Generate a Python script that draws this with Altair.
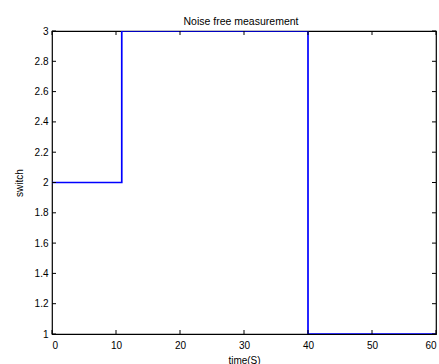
import altair as alt
import pandas as pd

time_s = [0, 10.9, 40, 60]
switch = [2, 3, 1, 1]
x_ticks = [0, 10, 20, 30, 40, 50, 60]
y_ticks = [1.0, 1.2, 1.4, 1.6, 1.8, 2.0, 2.2, 2.4, 2.6, 2.8, 3.0]

W, H = 384, 303
FONT = "Liberation Sans"

df = pd.DataFrame({"t": time_s, "s": switch})
xt = pd.DataFrame({"v": x_ticks})
yt = pd.DataFrame({"v": y_ticks})

xscale = alt.Scale(domain=[0, 60], nice=False, zero=False)
yscale = alt.Scale(domain=[1, 3], nice=False, zero=False)

common = dict(labelFont=FONT, labelFontSize=10, labelColor="black", labelOverlap=False,
              titleFont=FONT, titleFontSize=10, titleColor="black", titleFontWeight="normal",
              tickSize=0, domain=False, grid=False)
x_axis = alt.Axis(values=x_ticks, format="d", labelPadding=6, titlePadding=5, **common)
y_axis = alt.Axis(values=y_ticks, format="~g", labelPadding=4, titlePadding=10, **common)

line = alt.Chart(df).mark_line(interpolate="step-after", color="#0000ff", strokeWidth=1.7, clip=True).encode(
    x=alt.X("t:Q", scale=xscale, title="time(S)", axis=x_axis),
    y=alt.Y("s:Q", scale=yscale, title="switch", axis=y_axis),
)

tick_len = 4
bt = alt.Chart(xt).mark_rule(color="black", strokeWidth=1).encode(
    x=alt.X("v:Q", scale=xscale, title="time(S)", axis=x_axis), y=alt.value(H), y2=alt.value(H - tick_len))
tt = alt.Chart(xt).mark_rule(color="black", strokeWidth=1).encode(
    x=alt.X("v:Q", scale=xscale, title="time(S)", axis=x_axis), y=alt.value(0), y2=alt.value(tick_len))
lt = alt.Chart(yt).mark_rule(color="black", strokeWidth=1).encode(
    y=alt.Y("v:Q", scale=yscale, title="switch", axis=y_axis), x=alt.value(0), x2=alt.value(tick_len))
rt = alt.Chart(yt).mark_rule(color="black", strokeWidth=1).encode(
    y=alt.Y("v:Q", scale=yscale, title="switch", axis=y_axis), x=alt.value(W), x2=alt.value(W - tick_len))

chart = alt.layer(line, bt, tt, lt, rt).properties(
    width=W, height=H,
    title=alt.TitleParams("Noise free measurement", font=FONT, fontSize=10.5, fontWeight="normal",
                          color="black", offset=7, baseline="alphabetic", anchor="middle", dy=16, dx=-3),
    padding={"left": 52, "top": 31, "right": 3, "bottom": 30},
    autosize=alt.AutoSizeParams(type="none"),
    background="white",
).configure_view(stroke="black", strokeWidth=1.2)

chart.save("out.html", embed_options={"renderer": "svg", "actions": False})
